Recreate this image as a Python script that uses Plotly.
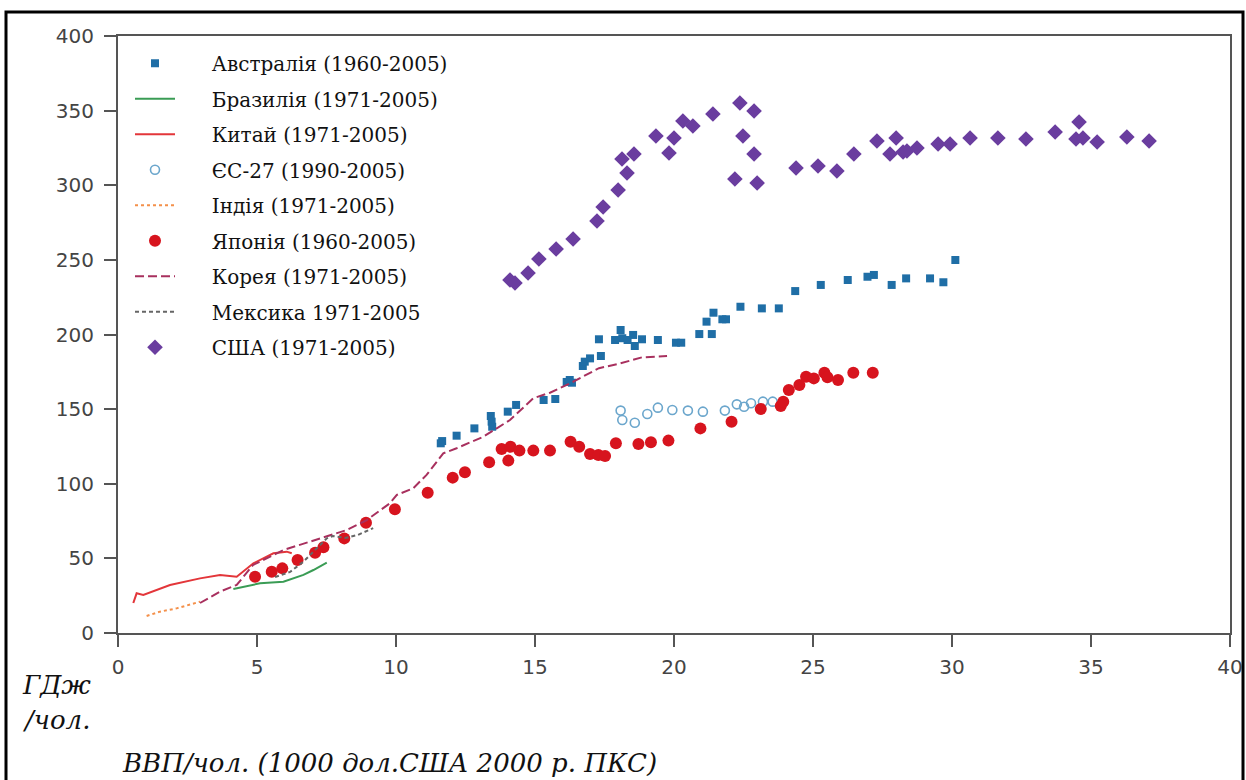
import plotly.graph_objects as go

# ---- data ----
aus_x = [11.66, 11.61, 12.18, 12.82, 13.41, 13.44, 13.46, 14.02, 14.32, 15.31, 15.73, 16.14, 16.25, 16.33,
         16.72, 16.79, 16.98, 17.37, 17.30, 17.88, 18.08, 18.14, 18.33, 18.53, 18.59, 18.85, 19.42, 20.07,
         20.26, 20.91, 21.36, 21.17, 21.42, 21.74, 21.87, 22.39, 23.16, 23.77, 24.36, 25.28, 26.25, 26.96,
         27.19, 27.83, 28.35, 29.21, 29.69, 30.12]
aus_y = [128.6, 127.1, 132.2, 137.1, 145.4, 141.6, 138.2, 148.3, 152.8, 156.1, 156.8, 168.2, 169.5, 167.7,
         178.9, 181.8, 184.0, 185.6, 196.8, 196.3, 203.0, 197.5, 196.3, 199.7, 192.3, 196.8, 196.3, 194.5,
         194.5, 200.3, 200.3, 208.6, 214.6, 210.2, 210.2, 218.6, 217.5, 217.5, 229.1, 233.2, 236.5, 238.7,
         239.9, 233.2, 237.6, 237.6, 235.0, 249.9]

bra_x = [4.15, 5.11, 5.95, 6.67, 7.03, 7.51]
bra_y = [29.5, 33.3, 34.4, 38.9, 42.2, 47.1]

chn_x = [0.55, 0.67, 0.91, 1.87, 2.95, 3.67, 4.27, 4.87, 5.59, 6.07, 6.25]
chn_y = [20.1, 26.6, 25.5, 32.2, 36.6, 38.9, 37.7, 46.7, 53.4, 54.5, 53.4]

eu_x = [18.08, 18.14, 18.59, 19.04, 19.42, 19.94, 20.50, 21.04, 21.83, 22.26, 22.52, 22.77, 23.20, 23.55]
eu_y = [149.0, 142.7, 140.9, 146.7, 151.0, 149.4, 149.0, 148.3, 149.0, 153.2, 151.6, 153.9, 155.0, 155.0]

ind_x = [1.03, 1.51, 2.11, 2.59, 2.95]
ind_y = [11.4, 14.3, 16.5, 18.8, 21.0]

jpn_x = [4.93, 5.53, 5.91, 6.46, 7.09, 7.39, 8.14, 8.92, 9.96, 11.14, 12.04, 12.48, 13.35, 14.04, 13.80,
         14.12, 14.44, 14.94, 15.54, 16.28, 16.59, 16.98, 17.28, 17.52, 17.91, 18.72, 19.17, 19.80, 20.95,
         22.07, 23.12, 23.84, 23.93, 24.13, 24.51, 24.75, 25.03, 25.41, 25.52, 25.90, 26.45, 27.15]
jpn_y = [37.7, 41.1, 43.3, 48.9, 53.8, 57.4, 63.4, 73.9, 82.9, 94.0, 104.1, 107.7, 114.4, 115.5, 123.3,
         124.8, 122.2, 122.2, 122.2, 128.2, 124.8, 119.9, 119.3, 118.6, 127.1, 126.6, 127.8, 128.9, 137.1,
         141.6, 150.1, 152.1, 155.0, 162.8, 166.2, 171.7, 170.6, 174.4, 171.3, 169.5, 174.4, 174.4]

kor_x = [2.95, 3.67, 4.27, 4.86, 5.95, 7.15, 8.23, 8.95, 9.78, 10.03, 10.62, 11.10, 11.70, 12.18, 13.14,
         14.10, 14.94, 15.54, 16.26, 17.30, 18.08, 18.85, 19.75]
kor_y = [20.1, 27.7, 32.2, 45.6, 55.6, 62.8, 69.0, 75.7, 86.9, 92.5, 97.0, 105.9, 120.4, 123.8, 131.5,
         142.7, 157.3, 161.0, 167.3, 177.4, 180.7, 184.7, 185.6]

mex_x = [5.65, 6.19, 6.67, 7.09, 7.51, 7.73, 8.17, 8.63, 9.18]
mex_y = [37.5, 40.9, 47.8, 55.6, 63.4, 65.0, 63.7, 65.7, 70.3]

usa_x = [14.10, 14.28, 14.75, 15.14, 15.76, 16.37, 17.23, 17.45, 17.99, 18.31, 18.13, 18.56, 19.35, 19.82,
         20.00, 20.32, 20.68, 21.40, 22.37, 22.88, 22.48, 22.88, 22.19, 22.99, 24.39, 25.18, 25.86, 26.47,
         27.30, 27.77, 27.99, 28.24, 28.38, 28.74, 29.50, 29.93, 30.65, 31.65, 32.66, 33.71, 34.57, 34.46,
         34.71, 35.22, 36.29, 37.09]
usa_y = [236.5, 234.5, 241.2, 250.6, 257.3, 264.0, 276.0, 285.4, 296.8, 308.2, 317.6, 320.9, 333.0, 321.6,
         331.7, 343.0, 339.7, 347.7, 355.1, 349.7, 333.0, 320.9, 304.2, 301.5, 311.6, 312.9, 309.5, 320.9,
         329.6, 320.9, 331.7, 322.3, 322.9, 325.0, 327.6, 327.6, 331.7, 331.7, 331.0, 335.7, 342.4, 331.0,
         331.7, 329.0, 332.3, 329.6]

names = ["Австралія (1960-2005)", "Бразилія (1971-2005)", "Китай (1971-2005)", "ЄС-27 (1990-2005)",
         "Індія (1971-2005)", "Японія (1960-2005)", "Корея (1971-2005)", "Мексика 1971-2005",
         "США (1971-2005)"]

x_ticks = [0, 5, 10, 15, 20, 25, 30, 35, 40]
y_ticks = [0, 50, 100, 150, 200, 250, 300, 350, 400]

PAD = "\u00a0" * 5  # gap between legend symbol and legend text
leg = [PAD + n for n in names]

fig = go.Figure()

fig.add_trace(go.Scatter(x=aus_x, y=aus_y, mode="markers", name=leg[0], legendgroup="g0",
                         marker=dict(symbol="square", size=8, color="#1f6ea6")))
fig.add_trace(go.Scatter(x=bra_x, y=bra_y, mode="lines", name=leg[1], legendgroup="g1",
                         line=dict(color="#3a9c55", width=2)))
fig.add_trace(go.Scatter(x=chn_x, y=chn_y, mode="lines", name=leg[2], legendgroup="g2",
                         line=dict(color="#e3363a", width=2)))
fig.add_trace(go.Scatter(x=eu_x, y=eu_y, mode="markers", name=leg[3], legendgroup="g3",
                         marker=dict(symbol="circle-open", size=9, color="#6ba6cc", line=dict(width=1.6))))
fig.add_trace(go.Scatter(x=ind_x, y=ind_y, mode="lines", name=leg[4], legendgroup="g4",
                         line=dict(color="#f4904a", width=2, dash="dot")))
fig.add_trace(go.Scatter(x=jpn_x, y=jpn_y, mode="markers", name=leg[5], legendgroup="g5",
                         marker=dict(symbol="circle", size=12, color="#d7141e")))
fig.add_trace(go.Scatter(x=kor_x, y=kor_y, mode="lines", name=leg[6], legendgroup="g6",
                         line=dict(color="#a8305e", width=2, dash="9px,4px")))
fig.add_trace(go.Scatter(x=mex_x, y=mex_y, mode="lines", name=leg[7], legendgroup="g7",
                         line=dict(color="#666666", width=2, dash="4px,3px")))
fig.add_trace(go.Scatter(x=usa_x, y=usa_y, mode="markers", name=leg[8], legendgroup="g8",
                         marker=dict(symbol="diamond", size=12, color="#6a3d9f")))

axis_common = dict(showgrid=False, zeroline=False, showline=True, linecolor="#555555", linewidth=2,
                   mirror=True, ticks="outside", ticklen=12, tickwidth=2, tickcolor="#555555",
                   automargin=False, ticklabeloverflow="allow",
                   tickfont=dict(family="DejaVu Sans", size=20, color="#444444"))

fig.update_xaxes(range=[0, 40], tickvals=x_ticks, ticktext=[str(v) for v in x_ticks],
                 ticklabelstandoff=3, **axis_common)
fig.update_yaxes(range=[0, 400], tickvals=y_ticks, ticktext=[str(v) for v in y_ticks],
                 ticklabelstandoff=6, **axis_common)

lab_font = dict(family="DejaVu Serif", size=26, color="#111111", style="italic")

fig.update_layout(
    width=1246, height=780,
    margin=dict(l=118, r=16, t=36, b=147),
    paper_bgcolor="white", plot_bgcolor="white",
    font=dict(family="DejaVu Serif", color="#111111"),
    legend=dict(x=(130 - 118) / 1112, y=0.987, xanchor="left", yanchor="top", bgcolor="rgba(0,0,0,0)",
                font=dict(family="DejaVu Serif", size=20, color="#111111"),
                itemwidth=40, tracegroupgap=6.5),
    showlegend=True,
    annotations=[
        dict(text="ГДж", xref="paper", yref="paper", x=(20 - 118) / 1112, y=-0.087, xanchor="left",
             yanchor="middle", showarrow=False, font=lab_font),
        dict(text="/чол.", xref="paper", yref="paper", x=(20 - 118) / 1112, y=-0.146, xanchor="left",
             yanchor="middle", showarrow=False, font=lab_font),
        dict(text="ВВП/чол. (1000 дол.США 2000 р. ПКС)", xref="paper", yref="paper", x=0.0018,
             y=(633 - 763) / 597, xanchor="left", yanchor="middle", showarrow=False, font=lab_font),
    ],
    shapes=[
        dict(type="rect", xref="paper", yref="paper", x0=(6 - 118) / 1112, x1=(1243 - 118) / 1112,
             y0=(633 - 800) / 597, y1=(633 - 12) / 597, line=dict(color="black", width=3),
             fillcolor="rgba(0,0,0,0)", layer="above"),
    ],
)

fig.write_html("out.html")
